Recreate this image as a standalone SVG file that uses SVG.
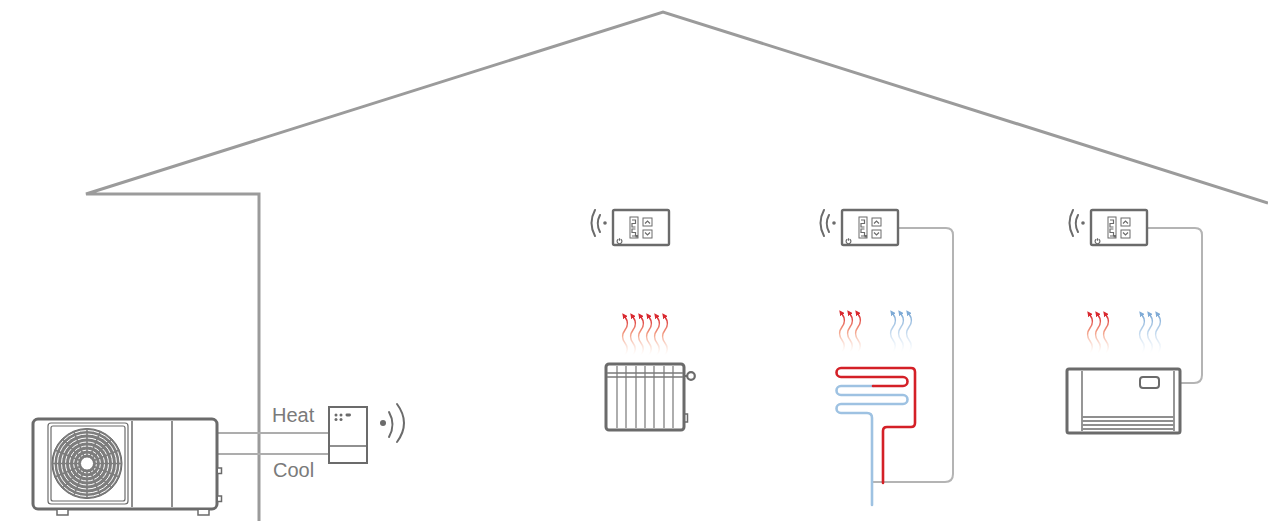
<svg xmlns="http://www.w3.org/2000/svg" width="1268" height="521" viewBox="0 0 1268 521">
  <style>
    .house{fill:none;stroke:#9b9b9b;stroke-width:3;stroke-linejoin:miter}
    .dev{fill:#fff;stroke:#6b6b6b;stroke-width:3}
    .thin{fill:none;stroke:#6b6b6b;stroke-width:1.2}
    .wire{fill:none;stroke:#b4b4b4;stroke-width:2}
    .pipe{fill:none;stroke:#adadad;stroke-width:2}
    .lbl{font-family:"Liberation Sans",Arial,sans-serif;font-size:20px;fill:#7a7a7a}
    .tb{fill:#fff;stroke:#6b6b6b;stroke-width:2.4}
    .ti{fill:#fff;stroke:#6b6b6b;stroke-width:1}
    .wifi{fill:none;stroke:#6b6b6b;stroke-width:2;stroke-linecap:round}
    .hw{fill:none;stroke:url(#gRed);stroke-width:1.5;marker-start:url(#aRed)}
    .cw{fill:none;stroke:url(#gBlue);stroke-width:1.5;marker-start:url(#aBlue)}
    .red{fill:none;stroke:#d42027;stroke-width:2.6;stroke-linecap:round;stroke-linejoin:round}
    .blue{fill:none;stroke:#9ec2e2;stroke-width:2.6;stroke-linecap:round;stroke-linejoin:round}
  </style>
  <defs>
    <linearGradient id="gRed" x1="0" y1="0" x2="0" y2="1">
      <stop offset="0" stop-color="#d9282f"/>
      <stop offset="0.45" stop-color="#ee7d5c" stop-opacity="0.75"/>
      <stop offset="1" stop-color="#f8c9b3" stop-opacity="0"/>
    </linearGradient>
    <linearGradient id="gBlue" x1="0" y1="0" x2="0" y2="1">
      <stop offset="0" stop-color="#7fabd6"/>
      <stop offset="0.45" stop-color="#a9c8e6" stop-opacity="0.75"/>
      <stop offset="1" stop-color="#d6e6f4" stop-opacity="0"/>
    </linearGradient>
    <marker id="aRed" viewBox="0 0 6 6" refX="1" refY="3" markerWidth="5.5" markerHeight="5.5" markerUnits="userSpaceOnUse" orient="auto-start-reverse">
      <path d="M0,0 L6,3 L0,6 z" fill="#d9282f"/>
    </marker>
    <marker id="aBlue" viewBox="0 0 6 6" refX="1" refY="3" markerWidth="5.5" markerHeight="5.5" markerUnits="userSpaceOnUse" orient="auto-start-reverse">
      <path d="M0,0 L6,3 L0,6 z" fill="#7fabd6"/>
    </marker>
    <path id="wave" d="M0,0 c3,4 3,9 0,13 c-3,4 -3,9 0,13 c3,4 3,8 0,12"/>
    <g id="thermo">
      <rect class="tb" x="0" y="0" width="56" height="35" rx="1.5"/>
      <rect class="ti" x="17" y="7" width="8" height="21"/>
      <path class="thin" d="M19,10 h3.5 v3.5 h-3.5 v3.5 h3.5 M22.5,19 h-3.5 v3.5 h3.5 v3.5 h-3.5"/>
      <rect x="22.5" y="25" width="2.5" height="2.5" fill="#6b6b6b"/>
      <rect class="ti" x="30" y="8" width="9" height="8"/>
      <rect class="ti" x="30" y="20" width="9" height="8"/>
      <path class="thin" d="M32,13.5 l2.5,-2.5 l2.5,2.5 M32,22.5 l2.5,2.5 l2.5,-2.5"/>
      <path class="thin" d="M5.3,29.3 a2.4,2.4 0 1 0 2.4,0 M6.5,28.2 v2.6"/>
      <circle cx="-8" cy="13" r="1.8" fill="#6b6b6b"/>
      <path class="wifi" d="M-13,5 Q-17.5,13.5 -13,22 M-18,0 Q-25,13 -18,26"/>
    </g>
  </defs>

  <!-- house outline -->
  <path class="house" d="M259,521 V194 H86 L663,12 L1268,203"/>

  <g id="connectors">
    <!-- flow and return lines from the heat pump -->
    <path class="pipe" d="M218,433 H329 M218,454 H329"/>
    <!-- thermostat wiring -->
    <path class="wire" d="M898,228 H946 Q953,228 953,235 V474 Q953,482 945,482 H872"/>
    <path class="wire" d="M1147,228 H1195 Q1202,228 1202,235 V375 Q1202,383 1194,383 H1181"/>
  </g>

  <g id="heat-pump">
    <rect class="dev" x="33" y="419" width="184" height="90" rx="5"/>
    <rect class="thin" x="48" y="423" width="80" height="81" rx="3" stroke-width="1.6"/>
    <rect class="thin" x="51" y="426" width="74" height="75" rx="2" stroke-width="0.8"/>
    <g transform="translate(87,463.5)">
      <circle r="35" fill="#7d7d7d" stroke="#6b6b6b" stroke-width="1"/>
      <g fill="none" stroke="#ffffff" stroke-width="1">
        <circle r="9.5"/><circle r="13.5"/><circle r="17.5"/><circle r="21.5"/><circle r="25.5"/><circle r="29.5"/><circle r="33"/>
      </g>
      <g stroke="#7d7d7d" stroke-width="1.6">
        <path d="M0,-35 V-7 M0,35 V7 M-35,0 H-7 M35,0 H7"/>
        <path d="M-24.7,-24.7 L-5,-5 M24.7,24.7 L5,5 M-24.7,24.7 L-5,5 M24.7,-24.7 L5,-5"/>
        <path d="M13.4,-32.3 L2.7,-6.5 M-13.4,32.3 L-2.7,6.5 M-13.4,-32.3 L-2.7,-6.5 M13.4,32.3 L2.7,6.5"/>
        <path d="M32.3,-13.4 L6.5,-2.7 M-32.3,13.4 L-6.5,2.7 M-32.3,-13.4 L-6.5,-2.7 M32.3,13.4 L6.5,2.7"/>
      </g>
      <circle r="6.5" fill="#fff" stroke="#6b6b6b" stroke-width="0.8"/>
    </g>
    <path fill="none" stroke="#6b6b6b" stroke-width="1.5" d="M132,421 V507 M172,421 V507"/>
    <path fill="#fff" stroke="#6b6b6b" stroke-width="1.5" d="M57,510 v5 h11 v-5 M198,510 v5 h11 v-5 M218,468 h3.5 v5.5 h-3.5 M218,496 h3.5 v5.5 h-3.5"/>
  </g>

  <g id="controller">
    <text class="lbl" x="272" y="422">Heat</text>
    <text class="lbl" x="273" y="477">Cool</text>
    <rect x="329" y="407" width="38" height="56" fill="#fff" stroke="#6b6b6b" stroke-width="2"/>
    <path d="M329,446 H367" stroke="#6b6b6b" stroke-width="1.6"/>
    <g fill="#6b6b6b">
      <circle cx="336" cy="415" r="1.5"/><circle cx="341" cy="415" r="1.5"/>
      <rect x="345.5" y="413.6" width="5.5" height="2.8" rx="1.4"/>
      <circle cx="336" cy="419.5" r="1.5"/><circle cx="341" cy="419.5" r="1.5"/>
      <circle cx="383" cy="423" r="3"/>
    </g>
    <path class="wifi" stroke-width="2.2" d="M389,412 Q396,424.5 389,437 M397,404 Q411,423 397,442"/>
  </g>

  <g id="thermostat-1"><use href="#thermo" transform="translate(613,210)"/></g>
  <g id="thermostat-2"><use href="#thermo" transform="translate(842,210)"/></g>
  <g id="thermostat-3"><use href="#thermo" transform="translate(1091,210)"/></g>

  <g id="radiator">
    <g transform="translate(0,317)">
      <use class="hw" href="#wave" x="625"/>
      <use class="hw" href="#wave" x="633"/>
      <use class="hw" href="#wave" x="641"/>
      <use class="hw" href="#wave" x="649"/>
      <use class="hw" href="#wave" x="657"/>
      <use class="hw" href="#wave" x="665"/>
    </g>
    <rect x="684" y="414" width="3.5" height="8" fill="#fff" stroke="#6b6b6b" stroke-width="1.5"/>
    <path d="M684,376 H688" stroke="#6b6b6b" stroke-width="2"/>
    <circle cx="691" cy="376" r="3.8" fill="#fff" stroke="#6b6b6b" stroke-width="2.2"/>
    <rect class="dev" x="606" y="364" width="78" height="66" rx="3"/>
    <path fill="none" stroke="#8c8c8c" stroke-width="1.4" d="M617,366 V428 M626,366 V428 M636,366 V428 M645,366 V428 M654,366 V428 M664,366 V428 M673,366 V428"/>
    <path fill="none" stroke="#7a7a7a" stroke-width="1.4" d="M607,373 H683 M607,377 H683"/>
  </g>

  <g id="underfloor">
    <g transform="translate(0,314)">
      <use class="hw" href="#wave" x="842"/>
      <use class="hw" href="#wave" x="850"/>
      <use class="hw" href="#wave" x="858"/>
      <use class="cw" href="#wave" x="893"/>
      <use class="cw" href="#wave" x="901"/>
      <use class="cw" href="#wave" x="909"/>
    </g>
    <!-- return loop: lower half of the serpentine down to the outlet -->
    <path class="blue" d="M873,386 H841 A4.5,4.5 0 0 0 841,395 H903 A4.5,4.5 0 0 1 903,404 H841 A4.5,4.5 0 0 0 841,413 H867 Q872,413 872,418 V505"/>
    <!-- supply: riser, then upper half of the serpentine -->
    <path class="red" d="M883,483 V431 Q883,427 887,427 H911 Q915,427 915,423 V372 Q915,368 911,368 H841 A4.5,4.5 0 0 0 841,377 H903 A4.5,4.5 0 0 1 903,386 H873"/>
  </g>

  <g id="fan-coil">
    <g transform="translate(0,315)">
      <use class="hw" href="#wave" x="1090"/>
      <use class="hw" href="#wave" x="1098"/>
      <use class="hw" href="#wave" x="1106"/>
      <use class="cw" href="#wave" x="1142"/>
      <use class="cw" href="#wave" x="1150"/>
      <use class="cw" href="#wave" x="1158"/>
    </g>
    <rect class="dev" x="1067" y="369" width="113" height="64" rx="2"/>
    <path fill="none" stroke="#6b6b6b" stroke-width="1.4" d="M1082,371 V431 M1174,371 V431"/>
    <rect x="1140" y="377" width="19" height="11" rx="3" fill="#fff" stroke="#6b6b6b" stroke-width="2"/>
    <path fill="none" stroke="#8f8f8f" stroke-width="2" d="M1082,417 H1174 M1082,421 H1174 M1082,425 H1174 M1082,429 H1174"/>
  </g>
</svg>
